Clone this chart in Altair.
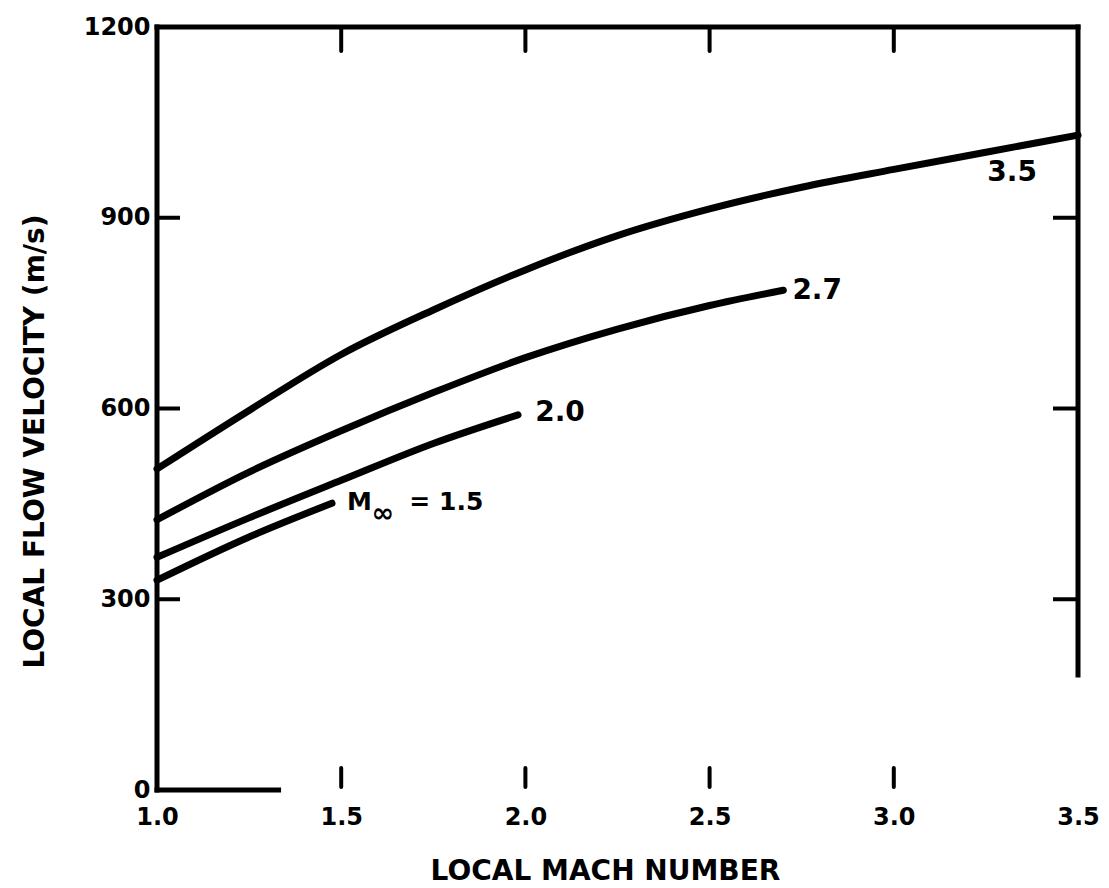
import altair as alt
import pandas as pd

# ---- data ----
mach_15 = [1.0, 1.25, 1.475]
vel_15 = [330, 398, 451]
mach_20 = [1.0, 1.25, 1.5, 1.75, 1.98]
vel_20 = [366, 428, 487, 545, 590]
mach_27 = [1.0, 1.25, 1.5, 1.75, 2.0, 2.25, 2.5, 2.7]
vel_27 = [425, 500, 565, 625, 680, 725, 762, 786]
mach_35 = [1.0, 1.25, 1.5, 1.75, 2.0, 2.25, 2.5, 2.75, 3.0, 3.25, 3.5]
vel_35 = [505, 597, 685, 755, 818, 872, 914, 948, 976, 1003, 1030]

x_tick_labels = [1.0, 1.5, 2.0, 2.5, 3.0, 3.5]
y_tick_labels = [0, 300, 600, 900, 1200]
inner_x_ticks = [1.5, 2.0, 2.5, 3.0]
inner_y_ticks = [300, 600, 900]

label_text = ["2.0", "2.7", "3.5"]
label_m = [2.094, 2.792, 3.321]
label_v = [593, 785, 970]

FONT = "DejaVu Sans"
W, H = 921, 763
XT = "LOCAL MACH NUMBER"
YT = "LOCAL FLOW VELOCITY (m/s)"

rows = []
for name, ms, vs in [("1.5", mach_15, vel_15), ("2.0", mach_20, vel_20),
                     ("2.7", mach_27, vel_27), ("3.5", mach_35, vel_35)]:
    for m, v in zip(ms, vs):
        rows.append({"series": name, "m": m, "v": v})
curves_df = pd.DataFrame(rows)

xs = alt.Scale(domain=[1.0, 3.5], nice=False, zero=False)
ys = alt.Scale(domain=[0, 1200], nice=False, zero=False)

XA = alt.Axis(values=x_tick_labels, format=".1f", domain=False, ticks=False,
              tickSize=0, grid=False, labelPadding=15, labelFontSize=24,
              labelFontWeight="bold", labelFont=FONT, labelColor="black",
              labelFlush=False, labelOverlap=False,
              titleFont=FONT, titleFontSize=28, titleFontWeight="bold",
              titleColor="black", titleX=448, titleY=89,
              titleBaseline="alphabetic")
YA = alt.Axis(values=y_tick_labels, format="d", domain=False, ticks=False, tickSize=0,
              grid=False, labelPadding=7, labelFontSize=24,
              labelFontWeight="bold", labelFont=FONT, labelColor="black",
              labelFlush=False, labelOverlap=False,
              titleFont=FONT, titleFontSize=28, titleFontWeight="bold",
              titleColor="black", titleX=-122, titleY=414,
              titleBaseline="middle", titleAlign="center")


def X(field="m"):
    return alt.X(f"{field}:Q", scale=xs, title=XT, axis=XA)


def Y(field="v"):
    return alt.Y(f"{field}:Q", scale=ys, title=YT, axis=YA)


curves = alt.Chart(curves_df).mark_line(
    color="black", strokeWidth=7, strokeCap="round", interpolate="monotone"
).encode(x=X(), y=Y(), detail="series:N")

frame_df = pd.DataFrame({
    "m": [1.0, 1.0, 3.5, 1.0],
    "m2": [1.0, 3.5, 3.5, 1.33],
    "v": [0, 1200, 181, 0],
    "v2": [1200, 1200, 1200, 0],
})
frame = alt.Chart(frame_df).mark_rule(color="black", strokeWidth=5, strokeCap="square").encode(
    x=X(), x2="m2:Q", y=Y(), y2="v2:Q")

xt_df = pd.DataFrame({"m": inner_x_ticks})
yt_df = pd.DataFrame({"v": inner_y_ticks})

top_ticks = alt.Chart(xt_df).mark_rule(color="black", strokeWidth=4, strokeCap="round").encode(
    x=X(), y=alt.value(0), y2=alt.value(24))
bottom_ticks = alt.Chart(xt_df).mark_rule(color="black", strokeWidth=4, strokeCap="round").encode(
    x=X(), y=alt.value(H - 22), y2=alt.value(H - 3))
left_ticks = alt.Chart(yt_df).mark_rule(color="black", strokeWidth=4).encode(
    y=Y(), x=alt.value(0), x2=alt.value(23))
right_ticks = alt.Chart(yt_df).mark_rule(color="black", strokeWidth=4).encode(
    y=Y(), x=alt.value(W - 25), x2=alt.value(W))

labels_df = pd.DataFrame({"t": label_text, "m": label_m, "v": label_v})
curve_labels = alt.Chart(labels_df).mark_text(
    font=FONT, fontSize=28, fontWeight="bold", color="black", align="center", baseline="middle"
).encode(x=X(), y=Y(), text="t:N")

minf_df = pd.DataFrame({"t": ["M", "= 1.5"], "m": [1.516, 1.685], "v": [453, 453]})
minf = alt.Chart(minf_df).mark_text(
    font=FONT, fontSize=25, fontWeight="bold", color="black", align="left", baseline="middle"
).encode(x=X(), y=Y(), text="t:N")
inf_df = pd.DataFrame({"t": ["∞"], "m": [1.583], "v": [434]})
inf_sub = alt.Chart(inf_df).mark_text(
    font=FONT, fontSize=27, fontWeight="bold", color="black", align="left", baseline="middle"
).encode(x=X(), y=Y(), text="t:N")

chart = alt.layer(
    curves, frame, top_ticks, bottom_ticks, left_ticks, right_ticks,
    curve_labels, minf, inf_sub,
).properties(
    width=W, height=H,
    autosize=alt.AutoSizeParams(type="none"),
    padding={"left": 157, "top": 27, "right": 31, "bottom": 98},
    background="white",
).configure_view(stroke=None)

chart.save("out.html", embed_options={"renderer": "svg", "actions": False})
